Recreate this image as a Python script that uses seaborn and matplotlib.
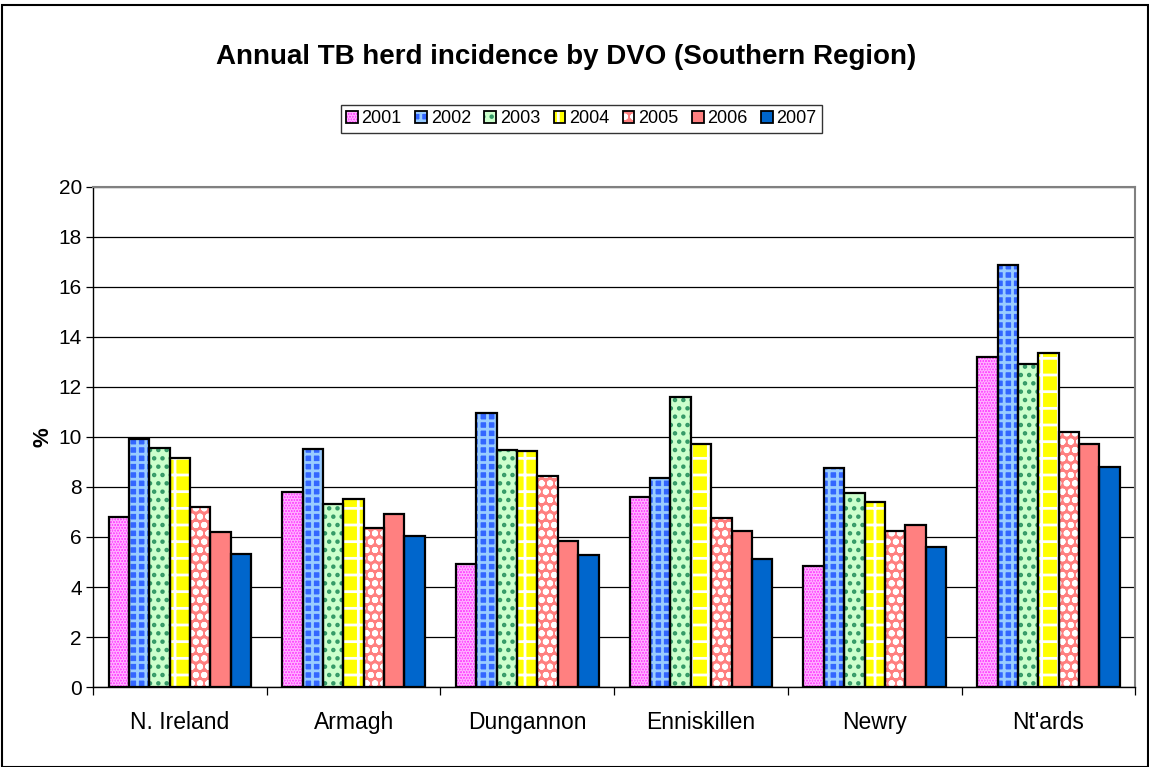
import matplotlib
matplotlib.use("Agg")
import matplotlib.pyplot as plt
from matplotlib.patches import Patch, Rectangle
from matplotlib.ticker import FixedLocator, MultipleLocator
import numpy as np
import pandas as pd
import seaborn as sns

# data
dvos = ["N. Ireland", "Armagh", "Dungannon", "Enniskillen", "Newry", "Nt'ards"]
years = ["2001", "2002", "2003", "2004", "2005", "2006", "2007"]
y2001 = [6.81, 7.80, 4.93, 7.61, 4.84, 13.20]
y2002 = [9.93, 9.52, 10.95, 8.37, 8.75, 16.88]
y2003 = [9.55, 7.33, 9.47, 11.60, 7.76, 12.91]
y2004 = [9.15, 7.52, 9.44, 9.73, 7.41, 13.36]
y2005 = [7.20, 6.35, 8.43, 6.75, 6.25, 10.21]
y2006 = [6.20, 6.90, 5.83, 6.24, 6.47, 9.71]
y2007 = [5.33, 6.05, 5.27, 5.13, 5.60, 8.80]

# (face, hatch, hatch colour) per year, imitating the Excel pattern fills
styles = {
    "2001": ("#FF3DFF", "......", "#FFB0FF"),
    "2002": ("#3366FF", "++", "#99CCFF"),
    "2003": ("#CCFFCC", "..", "#339966"),
    "2004": ("#FFFF00", "+", "#FFFFFF"),
    "2005": ("#FF8080", "oo", "#FFFFFF"),
    "2006": ("#FF8080", "", "#FF8080"),
    "2007": ("#0066CC", "", "#0066CC"),
}

df = pd.DataFrame({
    "dvo": np.tile(dvos, len(years)),
    "year": np.repeat(years, len(dvos)),
    "pct": y2001 + y2002 + y2003 + y2004 + y2005 + y2006 + y2007,
})

sns.set_style("white")
plt.rcParams["font.family"] = ["Liberation Sans", "DejaVu Sans"]
plt.rcParams["hatch.linewidth"] = 2.0
plt.rcParams["text.color"] = "black"
plt.rcParams["axes.labelcolor"] = "black"
plt.rcParams["xtick.color"] = "black"
plt.rcParams["ytick.color"] = "black"

fig = plt.figure(figsize=(11.49, 7.67), dpi=100)
ax = fig.add_axes([0.081, 0.1043, 0.907, 0.6519])

sns.barplot(data=df, x="dvo", y="pct", hue="year", order=dvos, hue_order=years,
            width=0.82, gap=0, palette=[styles[y][0] for y in years],
            saturation=1, errorbar=None, legend=False, ax=ax)

for year, cont in zip(years, ax.containers):
    face, hatch, hcol = styles[year]
    for bar in cont:
        bar.set_facecolor(face)
        bar.set_hatch(hatch)
        bar.set_edgecolor(hcol)
        bar.set_linewidth(0)
        # black outline drawn on top so the hatch keeps its own colour
        ax.add_patch(Rectangle(bar.get_xy(), bar.get_width(), bar.get_height(),
                               fill=False, edgecolor="black", linewidth=1.6, zorder=3))

ax.set_ylim(0, 20)
ax.set_xlim(-0.5, len(dvos) - 0.5)
ax.yaxis.set_major_locator(MultipleLocator(2))
ax.grid(axis="y", color="black", linewidth=0.9)
ax.set_axisbelow(True)

ax.set_xlabel("")
ax.set_ylabel("%", fontsize=16, fontweight="bold", labelpad=4)
ax.tick_params(axis="y", labelsize=15, length=5, width=0.9, color="black", labelcolor="black",
               direction="out", left=True, pad=3)
ax.tick_params(axis="x", which="major", labelsize=16.5, labelcolor="black", length=0, pad=17)
ax.xaxis.set_minor_locator(FixedLocator(np.arange(-0.5, len(dvos), 1)))
ax.tick_params(axis="x", which="minor", length=6, width=0.9, color="black", direction="out", bottom=True)

for side in ["left", "bottom"]:
    ax.spines[side].set_color("black")
    ax.spines[side].set_linewidth(1.0)
for side in ["top", "right"]:
    ax.spines[side].set_color("#808080")
    ax.spines[side].set_linewidth(1.5)

fig.text(0.4926, 0.926, "Annual TB herd incidence by DVO (Southern Region)",
         ha="center", va="center", fontsize=20, fontweight="bold", color="black")

handles = []
for y in years:
    face, hatch, hcol = styles[y]
    fill = Patch(facecolor=face, hatch=hatch, edgecolor=hcol, linewidth=0)
    outline = Patch(fill=False, edgecolor="black", linewidth=1.3)
    handles.append((fill, outline))
leg = fig.legend(handles, years, loc="center", bbox_to_anchor=(0.506, 0.845), ncol=7,
                 fontsize=13, frameon=True, fancybox=False, borderpad=0.3,
                 handlelength=0.65, handleheight=0.65, handletextpad=0.2, columnspacing=0.75)
leg.get_frame().set_edgecolor("black")
leg.get_frame().set_linewidth(1.0)

fig.patches.append(Rectangle((0.002, 0.0), 0.997, 0.993, transform=fig.transFigure,
                             fill=False, edgecolor="black", linewidth=1.5))

fig.savefig("out.png", dpi=100)
